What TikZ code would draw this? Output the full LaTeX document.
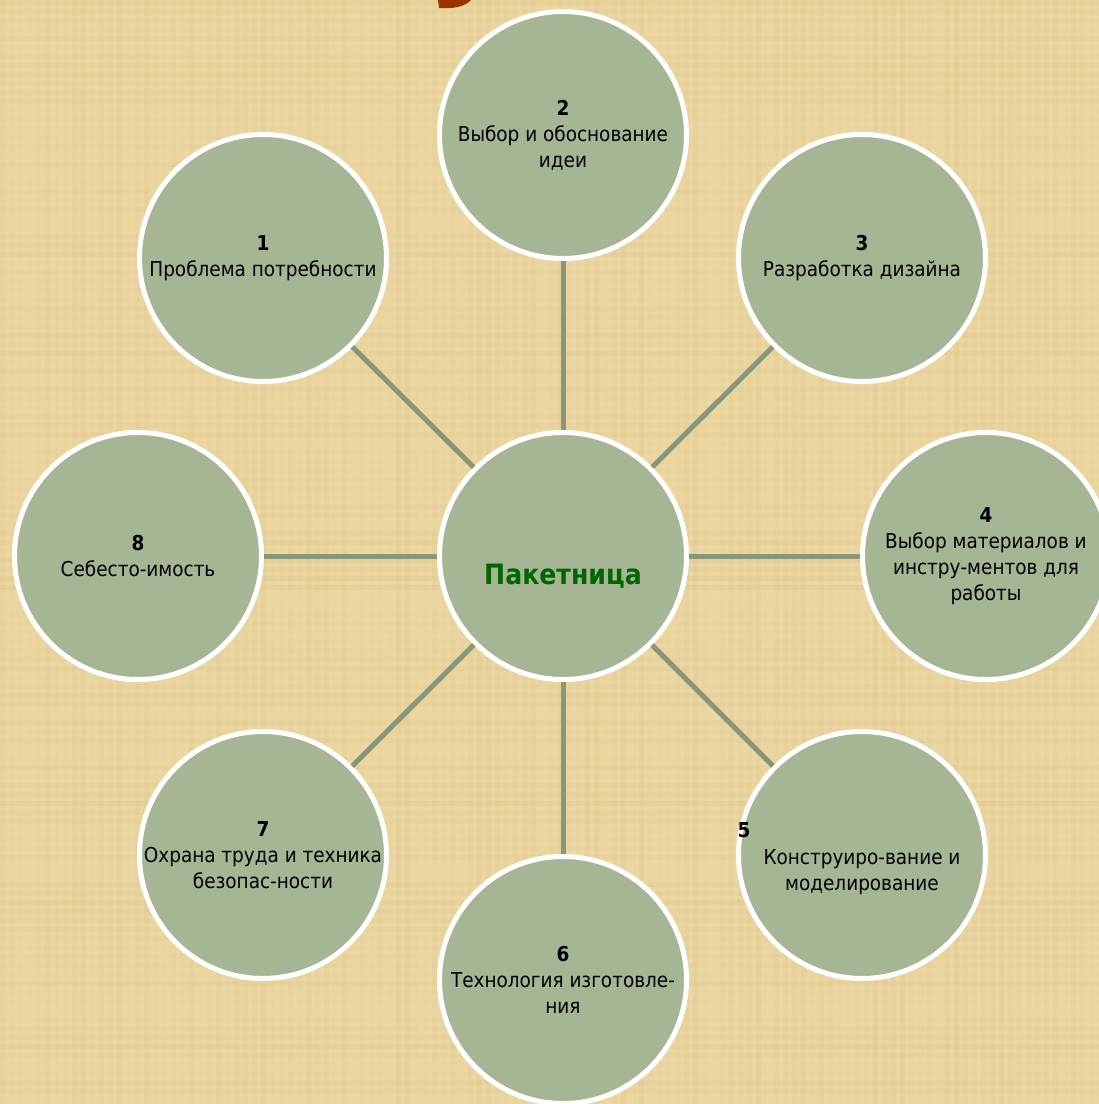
\documentclass[tikz,border=0pt]{standalone}
\usepackage{fontspec}
\setmainfont{DejaVu Sans Condensed}
\definecolor{papyrus}{HTML}{ECD7A2}
\definecolor{papyrusdark}{HTML}{C9AE6E}
\definecolor{sage}{HTML}{A6B594}
\definecolor{spoke}{HTML}{88977A}
\definecolor{hubgreen}{HTML}{006600}
\definecolor{titlebrown}{HTML}{993300}
\begin{document}
\begin{tikzpicture}[auto, x=1pt, y=-1pt,
                    main node/.style={circle, draw=white, line width=5pt, fill=sage, minimum size=247pt, inner sep=0pt,
                                      align=center, font=\fontsize{20.5}{26}\selectfont},
                    spoke line/.style={draw=spoke, line width=5pt}]

  \useasboundingbox[fill=papyrus] (0,0) rectangle (1099,1104);
  % papyrus texture
  \pgfmathsetseed{11}
  \foreach \i in {0,9,...,1099} {
    \pgfmathsetmacro\op{0.13*rnd}
    \fill[papyrusdark, opacity=\op] (\i,0) rectangle ++(5,1104);
    \pgfmathsetmacro\oq{0.13*rnd}
    \fill[papyrusdark, opacity=\oq] (0,\i) rectangle ++(1099,5);
  }
  % cut-off title letter
  \fill[titlebrown] (438,0) -- (471,0) .. controls (465,7) and (452,9) .. (439,8) -- cycle;

  \node[main node, label={[font=\bfseries\fontsize{28}{32}\selectfont, text=hubgreen, yshift=-20pt]center:Пакетница}] (0) at (563,556) {};
  \node[main node] (1) at (263,258) {\textbf{1}\\Проблема потребности};
  \node[main node] (2) at (563,135) {\textbf{2}\\Выбор и обоснование\\идеи};
  \node[main node] (3) at (862,258) {\textbf{3}\\Разработка дизайна};
  \node[main node] (4) at (986,556) {\textbf{4}\\Выбор материалов и\\инстру-ментов для\\работы};
  \node[main node] (5) at (862,855) {\mbox{}\\[24pt]Конструиро-вание и\\моделирование};
  \node[main node] (6) at (563,980) {\textbf{6}\\Технология изготовле-\\ния};
  \node[main node] (7) at (263,855) {\textbf{7}\\Охрана труда и техника\\безопас-ности};
  \node[main node] (8) at (138,556) {\textbf{8}\\Себесто-имость};
  \node[font=\bfseries\fontsize{20.5}{26}\selectfont] (5n) at (744,830) {5};

  \path[spoke line]
    (0) edge (1)
        edge (2)
        edge (3)
        edge (4)
        edge (5)
        edge (6)
        edge (7)
        edge (8);

\end{tikzpicture}
\end{document}
